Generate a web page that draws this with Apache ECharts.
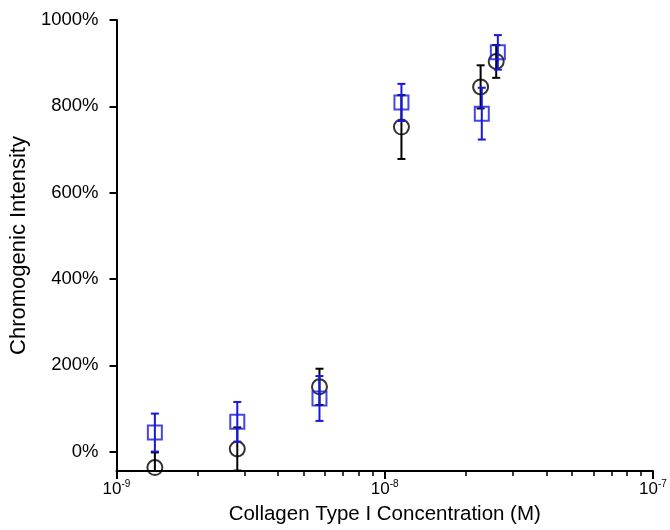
<!DOCTYPE html>
<html>
<head>
<meta charset="utf-8">
<script src="https://cdn.jsdelivr.net/npm/echarts@6/dist/echarts.min.js"></script>
<style>
html,body{margin:0;padding:0;background:#fff;}
#chart{width:670px;height:530px;}
</style>
</head>
<body>
<div id="chart"></div>
<script>
// Concentrations (M)
var blackX = [1.39e-9, 2.82e-9, 5.71e-9, 1.154e-8, 2.277e-8, 2.603e-8];
var blackY = [-37, 6, 150, 752, 845, 904];
var blackErr = [35, 50, 42, 74, 50, 38];

var blueX = [1.39e-9, 2.82e-9, 5.71e-9, 1.154e-8, 2.30e-8, 2.64e-8];
var blueY = [44, 69, 123, 809, 783, 925];
var blueErr = [44, 46, 52, 43, 60, 40];

var yTicks = [0, 200, 400, 600, 800, 1000];
var minorMultiples = [2, 3, 4, 5, 6, 7, 8, 9];
var decades = [-9, -8];

var minorTickVals = [];
decades.forEach(function (d) {
  minorMultiples.forEach(function (m) { minorTickVals.push(d + Math.log10(m)); });
});

function pairs(xs, ys) { return xs.map(function (x, i) { return [x, ys[i]]; }); }
function triples(xs, ys, es) { return xs.map(function (x, i) { return [x, ys[i], es[i]]; }); }

function errRender(color) {
  return function (params, api) {
    var x = api.value(0), y = api.value(1), e = api.value(2);
    var top = api.coord([x, y + e]);
    var bot = api.coord([x, y - e]);
    var hw = 4;
    var st = { stroke: color, lineWidth: 2 };
    return {
      type: 'group',
      children: [
        { type: 'line', shape: { x1: top[0], y1: top[1], x2: bot[0], y2: bot[1] }, style: st },
        { type: 'line', shape: { x1: top[0] - hw, y1: top[1], x2: top[0] + hw, y2: top[1] }, style: st },
        { type: 'line', shape: { x1: bot[0] - hw, y1: bot[1], x2: bot[0] + hw, y2: bot[1] }, style: st }
      ]
    };
  };
}

var BLUE = '#1818dc';
var INK = '#000';
var FONT = 'Liberation Sans, Arial, Helvetica, sans-serif';

var chart = echarts.init(document.getElementById('chart'));
chart.setOption({
  animation: false,
  backgroundColor: '#fff',
  textStyle: { fontFamily: FONT },
  grid: { left: 111, right: 17, top: 20, bottom: 57, containLabel: false },
  xAxis: [{
    type: 'log',
    logBase: 10,
    min: 1e-9,
    max: 1e-7,
    name: 'Collagen Type I Concentration (M)',
    nameLocation: 'middle',
    nameGap: 33,
    nameTextStyle: { fontSize: 20.5, color: INK, fontFamily: FONT },
    axisLine: { onZero: false, lineStyle: { color: INK, width: 2 } },
    axisTick: { show: true, inside: false, length: 8, lineStyle: { color: INK, width: 2 } },
    splitLine: { show: false },
    axisLabel: {
      margin: 8,
      color: INK,
      formatter: function (v) {
        var e = Math.round(Math.log10(v));
        return '{b|10}{s|' + e + '}';
      },
      rich: {
        b: { fontSize: 17, fontFamily: FONT, color: INK, verticalAlign: 'bottom' },
        s: { fontSize: 10, fontFamily: FONT, color: INK, verticalAlign: 'top', padding: [0, 0, 9, 0] }
      }
    }
  }, {
    type: 'value',
    min: -9,
    max: -7,
    position: 'bottom',
    show: true,
    axisLine: { show: false, onZero: false },
    axisLabel: { show: false },
    splitLine: { show: false },
    axisTick: { show: true, inside: false, length: 5, customValues: minorTickVals, lineStyle: { color: INK, width: 1.5 } }
  }],
  yAxis: {
    type: 'value',
    min: -45,
    max: 1000,
    name: 'Chromogenic Intensity',
    nameLocation: 'middle',
    nameGap: 78,
    nameTextStyle: { fontSize: 22, color: INK, fontFamily: FONT },
    axisLine: { show: true, onZero: false, lineStyle: { color: INK, width: 2 } },
    axisTick: { show: true, inside: false, length: 7, customValues: yTicks, lineStyle: { color: INK, width: 2 } },
    splitLine: { show: false },
    axisLabel: {
      margin: 18,
      fontSize: 18.5,
      color: INK,
      customValues: yTicks,
      formatter: function (v) { return String(Math.round(v)) + '%'; }
    }
  },
  series: [
    {
      type: 'custom',
      xAxisIndex: 0,
      clip: true,
      renderItem: errRender(INK),
      data: triples(blackX, blackY, blackErr),
      z: 2
    },
    {
      type: 'scatter',
      xAxisIndex: 0,
      symbol: 'circle',
      symbolSize: 15,
      itemStyle: { color: 'rgba(0,0,0,0)', borderColor: INK, borderWidth: 2 },
      data: pairs(blackX, blackY),
      z: 3
    },
    {
      type: 'custom',
      xAxisIndex: 0,
      clip: true,
      renderItem: errRender(BLUE),
      data: triples(blueX, blueY, blueErr),
      z: 4
    },
    {
      type: 'scatter',
      xAxisIndex: 0,
      symbol: 'rect',
      symbolSize: 14,
      itemStyle: { color: 'rgba(0,0,0,0)', borderColor: BLUE, borderWidth: 2 },
      data: pairs(blueX, blueY),
      z: 5
    }
  ]
});
</script>
</body>
</html>
